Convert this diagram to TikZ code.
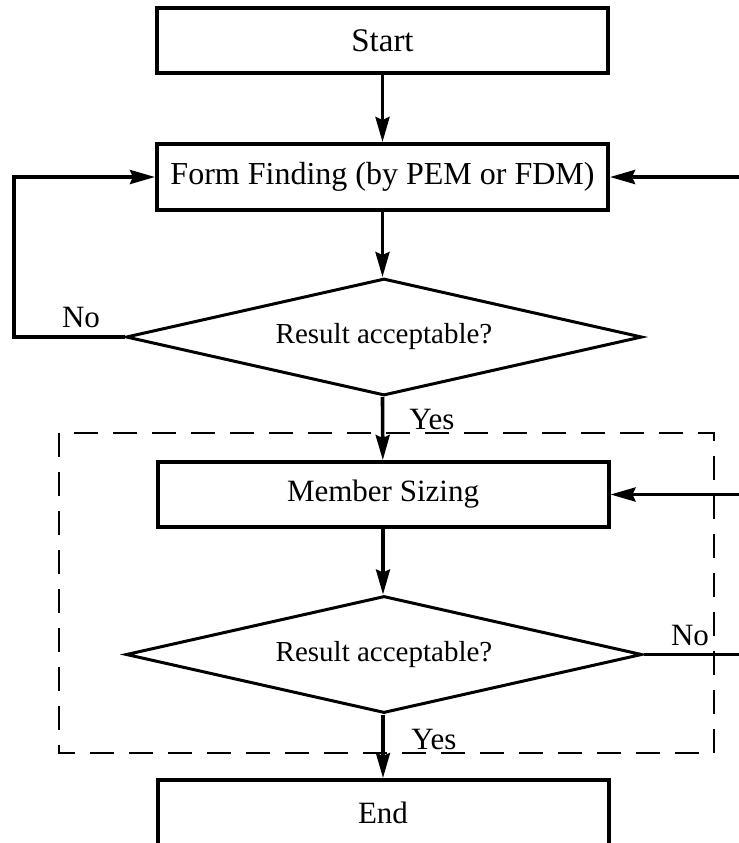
\documentclass[tikz,border=0pt]{standalone}
\usepackage{fontspec}
\setmainfont{Liberation Serif}
\usetikzlibrary{shapes.geometric,arrows.meta}
\begin{document}
\begin{tikzpicture}[x=0.5pt,y=-0.5pt,
  every node/.style={font=\fontsize{15}{18}\selectfont},
  procbox/.style={draw,line width=2pt,rectangle,minimum width=225.5pt,minimum height=32.5pt,inner sep=0pt},
  decision/.style={draw,line width=1.5pt,diamond,aspect=4.4,minimum width=258pt,minimum height=58.5pt,inner sep=0pt,font=\fontsize{14.5}{18}\selectfont},
  flow/.style={line width=1.8pt,-{Stealth[length=12.5pt,width=7pt,inset=1.5pt]}},
  plain/.style={line width=1.8pt},
  lbl/.style={anchor=base,inner sep=0pt,font=\fontsize{15.5}{18}\selectfont},
  group/.style={draw,line width=1.3pt,dash pattern=on 12pt off 7.5pt}
]
\useasboundingbox (0,0) rectangle (739,843);
\clip (0,0) rectangle (739,843);
\node[procbox,font=\fontsize{16.5}{18}\selectfont] (start) at (382.5,40.5) {Start};
\node[procbox,minimum height=33pt,font=\fontsize{16}{18}\selectfont] (ff) at (382.5,177) {Form Finding (by PEM or FDM)};
\node[decision] (d1) at (384,337) {Result acceptable?};
\node[procbox,font=\fontsize{15.5}{18}\selectfont] (ms) at (383,494.5) {Member Sizing};
\node[decision] (d2) at (384,654.5) {Result acceptable?};
\node[procbox,minimum height=33pt,font=\fontsize{15.5}{18}\selectfont] (end) at (383,813) {End};
\draw[group] (59,433) rectangle (714,753);
\coordinate (r1) at (739,177);
\coordinate (r2) at (739,494.5);
\coordinate (r3) at (739,654.5);
\coordinate (l1) at (14,337);
\coordinate (l2) at (14,177);
\draw[flow] (start) -- (ff);
\draw[flow] (ff) -- (ff.south |- d1.north);
\draw[flow] (ff.south |- d1.south) -- (ms);
\draw[flow] (ms) -- (ms.south |- d2.north);
\draw[flow] (ms.south |- d2.south) -- (end);
\draw[flow] (d1.west) -- (l1) -- (l2) -- (ff.west);
\draw[flow] (r1) -- (ff.east);
\draw[flow] (r2) -- (ms.east);
\draw[plain] (d2.east) -- (r3);
\node[lbl] (no1) at (81,327) {No};
\node[lbl] (no2) at (690,645) {No};
\node[lbl] (yes1) at (432,429) {Yes};
\node[lbl] (yes2) at (434,749) {Yes};
\end{tikzpicture}
\end{document}
